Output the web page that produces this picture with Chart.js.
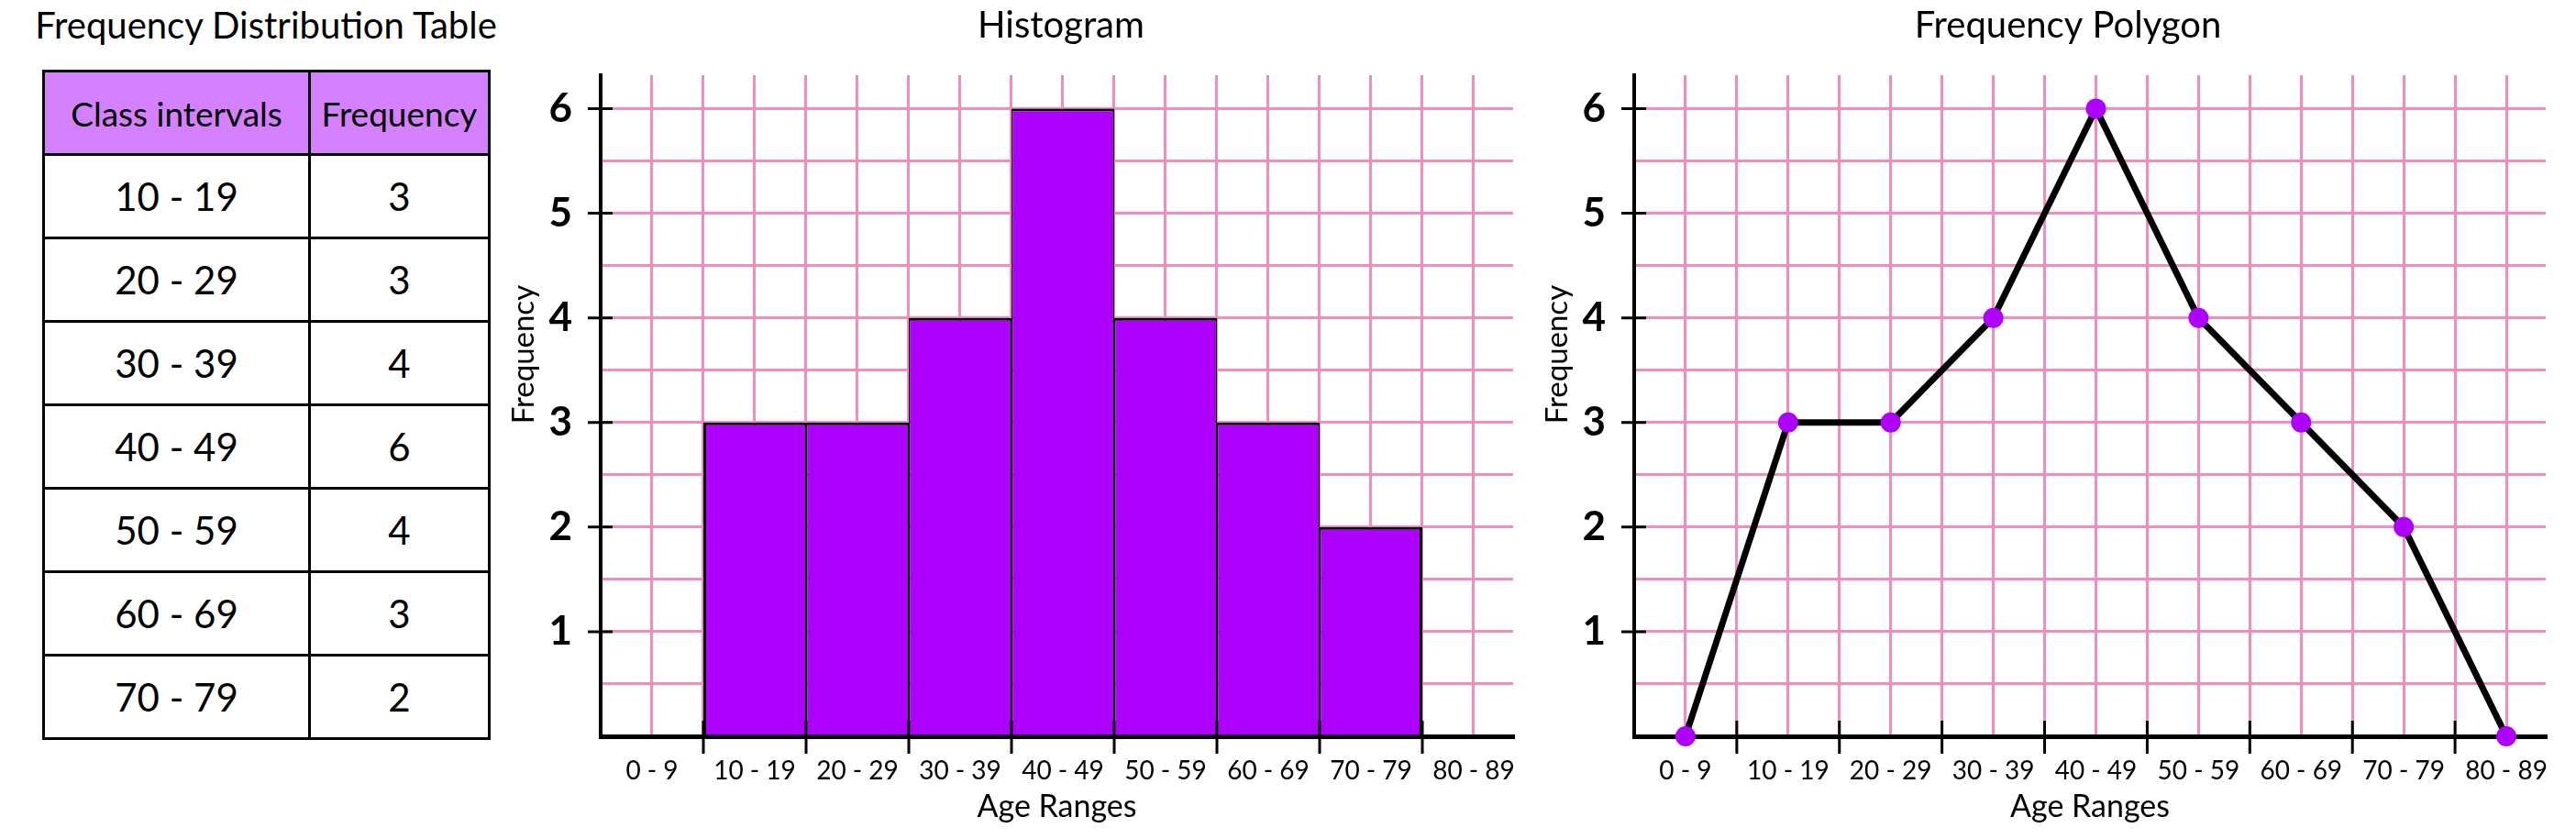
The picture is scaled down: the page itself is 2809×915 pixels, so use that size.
<!DOCTYPE html>
<html>
<head>
<meta charset="utf-8">
<title>Frequency Distribution</title>
<script src="https://cdn.jsdelivr.net/npm/chart.js@4.4.1/dist/chart.umd.min.js"></script>
<style>
  html, body { margin: 0; padding: 0; background: #fff; overflow: hidden; }
  body { width: 2809px; height: 915px; position: relative; font-family: Lato, sans-serif; color: #000; }
  canvas { position: absolute; top: 0; }
  #hist { left: 540px; }
  #poly { left: 1680px; }
  #tableTitle { position: absolute; left: 20px; top: 3px; width: 540px; text-align: center; font-size: 40px; line-height: 48px; }
  #freqTable { position: absolute; left: 46px; top: 76px; width: 486px; border-collapse: collapse; table-layout: fixed; }
  #freqTable th, #freqTable td { border: 3px solid #000; text-align: center; vertical-align: middle; padding: 0; }
  #freqTable tr { height: 91px; }
  #freqTable th { background: #d580ff; font-weight: normal; font-size: 37px; }
  #freqTable td { font-size: 42px; }
</style>
</head>
<body>
<div id="tableTitle">Frequency Distribution Table</div>
<table id="freqTable">
  <colgroup><col style="width:290px"><col style="width:196px"></colgroup>
  <thead><tr><th>Class intervals</th><th>Frequency</th></tr></thead>
  <tbody></tbody>
</table>
<canvas id="hist" width="1214" height="915"></canvas>
<canvas id="poly" width="1147" height="915"></canvas>
<script>
const ranges = ['0 - 9', '10 - 19', '20 - 29', '30 - 39', '40 - 49', '50 - 59', '60 - 69', '70 - 79', '80 - 89'];
const classes = ['10 - 19', '20 - 29', '30 - 39', '40 - 49', '50 - 59', '60 - 69', '70 - 79'];
const frequency = [3, 3, 4, 6, 4, 3, 2];
const yTicks = [1, 2, 3, 4, 5, 6];

const PINK = '#f28cbd';
const VIOLET = '#ad00ff';

Chart.defaults.font.family = 'Lato';
Chart.defaults.color = '#000';

// table rows
const tbody = document.querySelector('#freqTable tbody');
classes.forEach((c, i) => {
  const tr = document.createElement('tr');
  tr.innerHTML = '<td>' + c + '</td><td>' + frequency[i] + '</td>';
  tbody.appendChild(tr);
});

// histogram bars sit on their class position, polygon drops to 0 on the empty classes
const bars = classes.map((c, i) => ({ x: ranges.indexOf(c), y: frequency[i] }));
const polygon = ranges.map((r, i) => {
  const k = classes.indexOf(r);
  return { x: i, y: k < 0 ? 0 : frequency[k] };
});

// black tick marks crossing the axes + rotated y title
const axisMarks = {
  id: 'axisMarks',
  afterDraw(chart) {
    const { ctx, chartArea: a, scales: { x, y } } = chart;
    ctx.save();
    ctx.strokeStyle = '#000';
    ctx.lineWidth = 3;
    ctx.beginPath();
    yTicks.forEach((v) => {
      const py = y.getPixelForValue(v);
      ctx.moveTo(a.left - 14, py);
      ctx.lineTo(a.left + 13, py);
    });
    for (let i = 0; i < ranges.length - 1; i++) {
      const px = x.getPixelForValue(i + 0.5);
      ctx.moveTo(px, a.bottom - 17);
      ctx.lineTo(px, a.bottom + 19);
    }
    ctx.stroke();

    ctx.fillStyle = '#000';
    ctx.font = '33px Lato';
    ctx.textAlign = 'center';
    ctx.textBaseline = 'alphabetic';
    ctx.translate(a.left - 73, y.getPixelForValue(3.65));
    ctx.rotate(-Math.PI / 2);
    ctx.fillText('Frequency', 0, 0);
    ctx.restore();
  },
};

const gridColor = (c) => (c.tick && c.tick.value > 0 ? PINK : 'transparent');
const xGridColor = (c) => (c.tick && c.tick.value > -0.5 ? PINK : 'transparent');

function makeChart(id, type, title, padLeft, yWidth, rightWidth, datasets) {
  return new Chart(document.getElementById(id), {
    type: type,
    data: { datasets: datasets },
    options: {
      responsive: false,
      animation: false,
      layout: { padding: { left: padLeft, top: 0, right: 0, bottom: 0 } },
      plugins: {
        legend: { display: false },
        tooltip: { enabled: false },
        title: {
          display: true,
          text: title,
          color: '#000',
          font: { size: 40, weight: 'normal' },
          padding: { top: 4, bottom: 30 },
        },
      },
      scales: {
        x: {
          type: 'linear',
          min: -0.5,
          max: 8.384,
          offset: false,
          afterFit: (s) => { s.height = 112; },
          grid: { color: xGridColor, lineWidth: 3, drawTicks: false, offset: false },
          border: { color: '#000', width: 5 },
          ticks: {
            stepSize: 0.5,
            includeBounds: false,
            autoSkip: false,
            maxRotation: 0,
            minRotation: 0,
            padding: 21,
            font: { size: 28 },
            callback: (v) => (Number.isInteger(v) ? ranges[v] : ''),
          },
          title: { display: true, text: 'Age Ranges', font: { size: 34 }, padding: { top: 0, bottom: 15 } },
        },
        y: {
          type: 'linear',
          min: 0,
          max: 6.32,
          afterFit: (s) => { s.width = yWidth; },
          grid: { color: gridColor, lineWidth: 3, drawTicks: false },
          border: { color: '#000', width: 4 },
          ticks: {
            stepSize: 0.5,
            includeBounds: false,
            padding: 31,
            font: { size: 44, weight: 'bold' },
            callback: (v) => (yTicks.includes(v) ? v : ''),
          },
        },
        pad: {
          type: 'linear',
          position: 'right',
          afterFit: (s) => { s.width = rightWidth; },
          grid: { display: false },
          border: { display: false },
          ticks: { display: false },
        },
      },
    },
    plugins: [axisMarks],
  });
}

// grid ticks are every half class, so a full class is two grid steps wide
makeChart('hist', 'bar', 'Histogram', 20, 95, 104, [{
  type: 'bar',
  data: bars,
  backgroundColor: VIOLET,
  borderColor: '#000',
  borderWidth: (c) => ({
    top: 3,
    bottom: 0,
    left: c.dataIndex === 0 ? 3 : 1.5,
    right: c.dataIndex === bars.length - 1 ? 3 : 1.5,
  }),
  borderSkipped: false,
  barPercentage: 1,
  categoryPercentage: 2,
}]);

makeChart('poly', 'line', 'Frequency Polygon', 3, 99, 51, [{
  type: 'line',
  data: polygon,
  borderColor: '#000',
  borderWidth: 7,
  tension: 0,
  pointRadius: 11,
  pointBackgroundColor: VIOLET,
  pointBorderColor: VIOLET,
  pointBorderWidth: 0,
  clip: false,
}]);
</script>
</body>
</html>
